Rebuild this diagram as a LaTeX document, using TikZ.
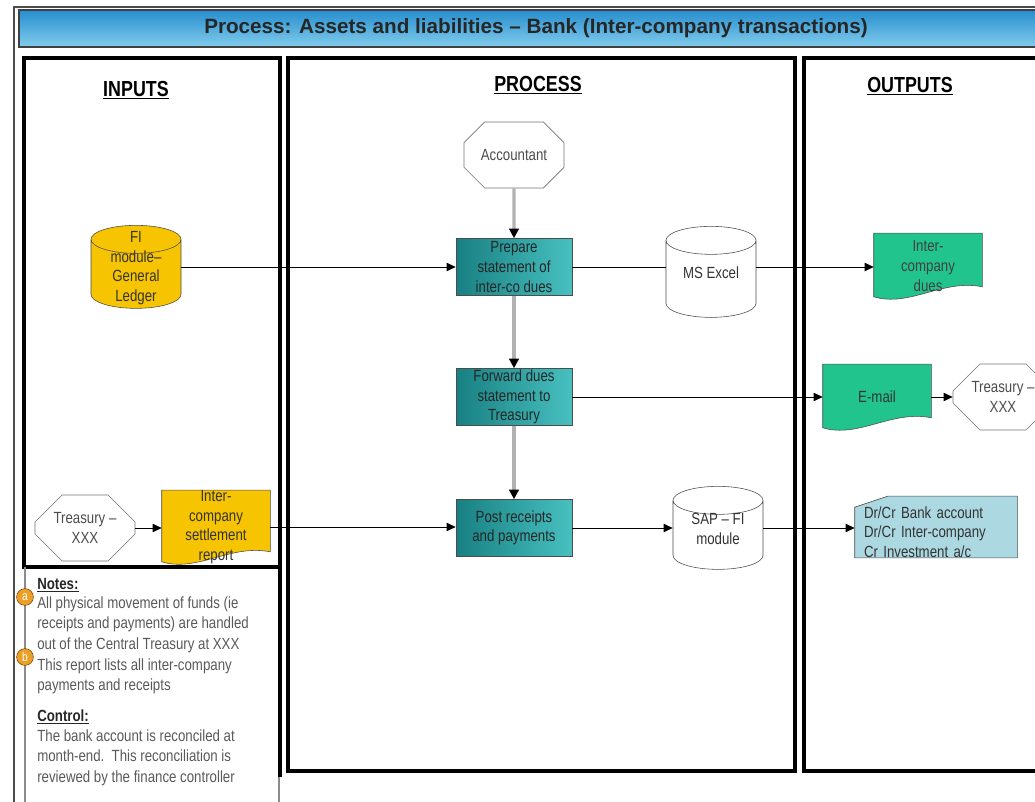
\documentclass[tikz,border=0pt]{standalone}
\usepackage{fontspec}
\setmainfont{Liberation Sans}
\newfontfamily\narrowfont[FakeStretch=0.82, Ligatures=TeX]{Liberation Sans}
\usetikzlibrary{shapes.geometric,shapes.misc,arrows.meta,backgrounds}
\definecolor{titletop}{RGB}{38,142,206}
\definecolor{titlebot}{RGB}{130,204,236}
\definecolor{taskdark}{RGB}{24,128,130}
\definecolor{tasklight}{RGB}{72,192,192}
\definecolor{ledgergold}{RGB}{246,196,0}
\definecolor{outgreen}{RGB}{34,196,142}
\definecolor{cardblue}{RGB}{172,216,226}
\definecolor{badgeorange}{RGB}{236,160,40}

% wavy document outline behind a named node
\newcommand{\docshape}[2]{%
    \path[fill=#2, draw=black!70] ([yshift=0.5mm]#1.south west) -- (#1.north west) -- (#1.north east)
        -- ([yshift=3mm]#1.south east) .. controls +(-10mm,2mm) and +(9mm,-2.7mm) .. ([yshift=0.5mm]#1.south west) -- cycle;}
% card outline (cut corner top left), drawn 1.25mm above the node
\newcommand{\cardshape}[2]{%
    \path[fill=#2, draw=black!70] ([xshift=8.25mm, yshift=1.25mm]#1.north west) -- ([yshift=1.25mm]#1.north east)
        -- ([yshift=1.25mm]#1.south east) -- ([yshift=1.25mm]#1.south west) -- ([yshift=-1.5mm]#1.north west) -- cycle;}

\begin{document}
\begin{tikzpicture}[x=0.25mm, y=-0.25mm,
    every node/.style={font=\narrowfont\fontsize{11.5}{13.9}\selectfont},
    column/.style={draw=black, line width=2.2pt},
    header/.style={font=\narrowfont\bfseries\fontsize{15.5}{18}\selectfont},
    actor/.style={chamfered rectangle, chamfered rectangle xsep=3mm, chamfered rectangle ysep=3.75mm,
        draw=black!55, fill=white, text=black!70, minimum width=25mm, minimum height=16.5mm, inner sep=0pt, align=center},
    task/.style={rectangle, draw=black!70, left color=taskdark, right color=tasklight, text=black!85,
        minimum width=29mm, minimum height=14.25mm, inner sep=0pt, align=center},
    store/.style={cylinder, shape border rotate=90, aspect=0.5, draw=black!70, fill=white,
        minimum width=22.5mm, minimum height=20.75mm, inner sep=0pt},
    storetext/.style={align=center, text=black!80, yshift=1.5mm},
    document/.style={minimum width=27mm, minimum height=16.25mm, inner sep=0pt, align=center},
    flow/.style={draw=black, line width=0.7pt, -{Triangle[length=2.3mm,width=2.1mm]}},
    link/.style={draw=black, line width=0.7pt},
    seq/.style={draw=black!30, line width=0.8mm, -{Triangle[black,length=2.4mm,width=2.4mm]}},
    badge/.style={circle, fill=badgeorange, draw=orange!50!black, text=white, minimum size=4.2mm, inner sep=0pt,
        font=\narrowfont\fontsize{9}{9}\selectfont},
    note/.style={anchor=west, align=left, text=black!65, inner sep=0pt, font=\narrowfont\fontsize{11.5}{14.6}\selectfont}]

    \useasboundingbox (0,0) rectangle (1035,802);
    \clip (0,0) rectangle (1035,802);

    % Frame and title
    \draw[black!70, line width=1pt] (14,7) rectangle (1060,830);
    \node[draw=black!75, line width=0.8pt, top color=titletop, bottom color=titlebot, minimum width=258.5mm,
        minimum height=9.25mm, font=\bfseries\fontsize{14.7}{17}\selectfont, text=black!85] (title) at (536,28.5)
        {Process: Assets and liabilities -- Bank (Inter-company transactions)};

    % Columns
    \draw[column] (24,58) rectangle (280,567);
    \draw[column] (280,567) -- (280,777);
    \draw[black!45, line width=0.8pt] (25,567) -- (25,810);
    \draw[black!45, line width=0.8pt] (279,777) -- (279,810);
    \draw[column] (288,58) rectangle (795,771);
    \draw[column] (804,58) rectangle (1060,771);
    \node[header] (hin) at (136,90) {\underline{INPUTS}};
    \node[header] (hproc) at (538,85) {\underline{PROCESS}};
    \node[header] (hout) at (910,86) {\underline{OUTPUTS}};

    % Inputs
    \node[store, fill=ledgergold, label={[storetext, name=fitext]center:FI\\module--\\General\\Ledger}] (fimod) at (136,274) {\phantom{MS Excel}};
    \node[actor] (treasL) at (85,528) {Treasury --\\XXX};
    \node[document, text=black!80] (rep) at (216,527) {Inter-\\company\\settlement\\report};

    % Process
    \node[actor] (acct) at (514,155) {Accountant};
    \node[task] (prep) at (514,267) {Prepare\\statement of\\inter-co dues};
    \node[task] (fwd) at (514,397) {Forward dues\\statement to\\Treasury};
    \node[task] (post) at (514,528) {Post receipts\\and payments};
    \node[store, minimum height=22.75mm, label={[storetext, name=exceltext]center:MS Excel}] (excel) at (711,279) {\phantom{MS Excel}};
    \node[store, label={[storetext, name=saptext]center:SAP -- FI\\module}] (sap) at (718,535) {\phantom{MS Excel}};

    % Outputs
    \node[document, text=black!75] (dues) at (928,266) {Inter-\\company\\dues};
    \node[document, text=black!80] (email) at (877,397) {E-mail};
    \node[actor] (treasR) at (1003,397) {Treasury --\\XXX};
    \node[rectangle, text=black!80, minimum width=40.5mm, minimum height=15.25mm, inner sep=0pt,
        text width=36mm, align=left] (drcr) at (936,532) {Dr/Cr Bank account\\Dr/Cr Inter-company\\Cr Investment a/c};

    \begin{scope}[on background layer]
        \docshape{rep}{ledgergold}
        \docshape{dues}{outgreen}
        \docshape{email}{outgreen}
        \cardshape{drcr}{cardblue}
    \end{scope}

    % Connections
    \foreach \a/\b in {acct/prep, prep/fwd, fwd/post}
        \draw[seq] (\a) -- (\b);
    \draw[flow] (fimod.east |- prep) -- (prep.west);
    \draw[link] (prep.east) -- (excel.west |- prep);
    \draw[flow] (excel.east |- prep) -- (dues.west |- prep);
    \draw[flow] (post.east) -- (sap.west |- post);
    \draw[flow] (sap.east |- post) -- (drcr.west |- post);
    \foreach \a/\b in {fwd/email, email/treasR, treasL/rep, rep/post}
        \draw[flow] (\a.east) -- (\a.east -| \b.west);

    % Notes
    \node[note, text=black!85] (nhead) at (37,585) {\textbf{\underline{Notes:}}};
    \node[note] (na) at (37,624.5) {All physical movement of funds (ie\\receipts and payments) are handled\\out of the Central Treasury at XXX};
    \node[note] (nb) at (37,676.5) {This report lists all inter-company\\payments and receipts};
    \node[note, text=black!85] (chead) at (37,717) {\textbf{\underline{Control:}}};
    \node[note] (ctext) at (37,757.5) {The bank account is reconciled at\\month-end.\ \ This reconciliation is\\reviewed by the finance controller};
    \node[badge] (ba) at (25,597) {a};
    \node[badge] (bb) at (25,657) {b};
\end{tikzpicture}
\end{document}
